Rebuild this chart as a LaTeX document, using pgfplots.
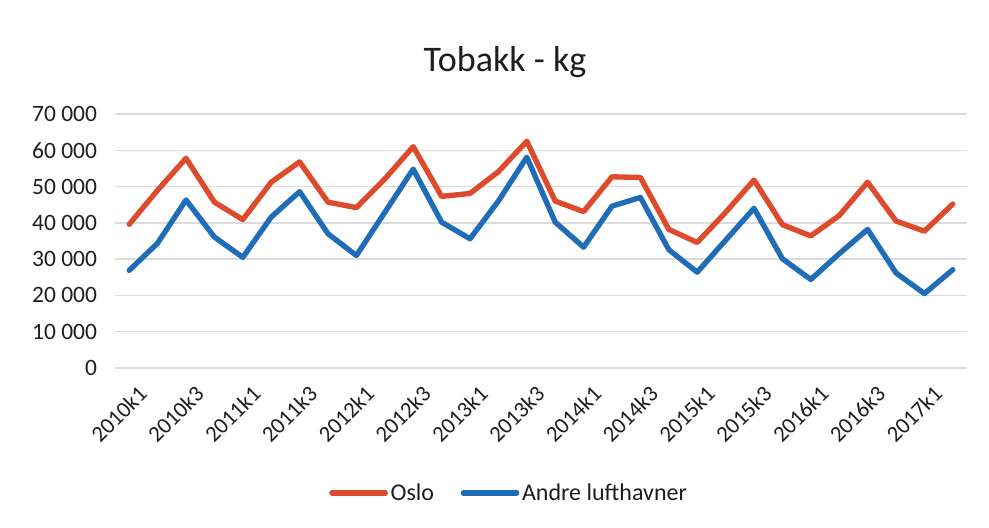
\documentclass[border=0pt]{standalone}
\usepackage{pgfplots}
\pgfplotsset{compat=1.18}
\usepackage{fontspec}
\setmainfont{Carlito}
\definecolor{oslo}{RGB}{222,74,44}
\definecolor{andre}{RGB}{31,108,184}
\definecolor{gridc}{RGB}{220,220,220}
\definecolor{txt}{RGB}{30,30,30}
\pgfplotstableread{
x oslo andre
0 39600 26900
1 49000 34400
2 57800 46300
3 45700 36100
4 40900 30500
5 51200 41600
6 56800 48600
7 45700 37000
8 44200 31000
9 52100 42900
10 61000 54800
11 47300 40200
12 48100 35600
13 54100 46000
14 62500 58100
15 46000 40200
16 43100 33300
17 52700 44600
18 52500 47000
19 38200 32600
20 34600 26400
21 42900 35200
22 51800 44000
23 39500 30100
24 36400 24400
25 42000 31500
26 51200 38200
27 40500 26200
28 37700 20500
29 45200 27100
}\datatable
\begin{document}
\begin{tikzpicture}
\path[use as bounding box, fill=white] (0,0) rectangle (741.75pt,396pt);
\node[anchor=base, text=txt, font=\fontsize{27}{32}\selectfont] at (378.75pt,342pt) {Tobakk - kg};
\begin{axis}[
  at={(86.25pt,120pt)}, anchor=south west,
  scale only axis, width=639pt, height=190.5pt,
  xmin=-0.5, xmax=29.5, ymin=0, ymax=70000,
  scaled y ticks=false,
  axis line style={draw=none},
  major tick length=0pt,
  ytick={0,10000,...,70000},
  yticklabels={0,10 000,20 000,30 000,40 000,50 000,60 000,70 000},
  xtick={0,2,...,28},
  xticklabels={2010k1,2010k3,2011k1,2011k3,2012k1,2012k3,2013k1,2013k3,2014k1,2014k3,2015k1,2015k3,2016k1,2016k3,2017k1},
  ymajorgrids, grid style={gridc, line width=1.1pt},
  yticklabel style={font=\fontsize{17.6}{20}\selectfont, text=txt, xshift=-10pt},
  xticklabel style={font=\fontsize{17}{20}\selectfont, text=txt, rotate=45, anchor=east, yshift=-19pt, xshift=-1pt},
  legend columns=2,
  legend style={at={(0.463,-0.492)}, anchor=center, draw=none, fill=none,
    font=\fontsize{18}{21}\selectfont, text=txt,
    /tikz/every even column/.append style={column sep=18pt}},
  legend image code/.code={\draw[#1, line width=4pt] (0pt,0pt) -- (40pt,0pt);},
  every axis plot/.append style={line width=4pt, line join=round, line cap=round},
]
\addplot[oslo] table[x=x, y=oslo] {\datatable};
\addlegendentry{Oslo}
\addplot[andre] table[x=x, y=andre] {\datatable};
\addlegendentry{Andre lufthavner}
\end{axis}
\end{tikzpicture}
\end{document}
